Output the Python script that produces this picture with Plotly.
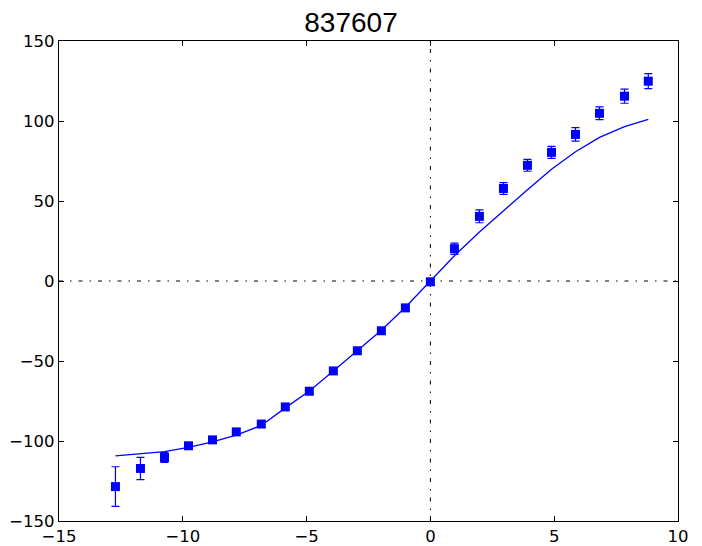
import plotly.graph_objects as go

# measured points (x, y, error) and model curve
x_vals = [-12.72, -11.71, -10.74, -9.77, -8.80, -7.84, -6.83, -5.86, -4.89, -3.92, -2.95,
          -1.98, -1.01, 0.0, 0.97, 1.98, 2.95, 3.92, 4.89, 5.86, 6.83, 7.84, 8.80]
y_data = [-128.5, -117.2, -110.3, -103.0, -99.3, -94.3, -89.4, -78.7, -68.9, -56.2, -43.6,
          -31.1, -16.8, -0.5, 20.2, 40.4, 57.8, 72.3, 80.4, 91.6, 104.8, 115.5, 124.9]
y_err = [12.4, 7.0, 3.0, 2.0, 2.0, 2.0, 2.0, 2.0, 2.0, 2.0, 2.0,
         2.0, 2.0, 2.0, 3.5, 4.0, 3.7, 3.7, 3.7, 4.2, 4.0, 4.4, 4.7]
y_model = [-109.3, -108.2, -106.7, -104.0, -100.5, -96.3, -90.3, -79.3, -68.8, -56.2, -43.6,
           -30.8, -16.4, 0.0, 15.8, 30.6, 44.0, 57.0, 69.8, 80.8, 89.8, 96.5, 101.0]
x_ticks = [-15, -10, -5, 0, 5, 10]
y_ticks = [-150, -100, -50, 0, 50, 100, 150]

blue = 'rgb(0, 0, 255)'
dashdot = '4px,7px,1.5px,7px'

fig = go.Figure()

# reference lines through the origin
fig.add_trace(go.Scatter(x=[-15, 10], y=[0, 0], mode='lines',
                         line=dict(color='black', width=1, dash=dashdot),
                         hoverinfo='none'))
fig.add_trace(go.Scatter(x=[0, 0], y=[-150, 150], mode='lines',
                         line=dict(color='black', width=1, dash=dashdot),
                         hoverinfo='none'))

# model curve
fig.add_trace(go.Scatter(x=x_vals, y=y_model, mode='lines',
                         line=dict(color=blue, width=1.3)))

# data with error bars
fig.add_trace(go.Scatter(x=x_vals, y=y_data, mode='markers',
                         marker=dict(symbol='square', size=9, color=blue),
                         error_y=dict(type='data', array=y_err, color=blue,
                                      thickness=1.2, width=4)))

axis_style = dict(showgrid=False, zeroline=False, showline=True, linecolor='black',
                  linewidth=1.3, mirror='allticks', ticks='inside', ticklen=5,
                  tickcolor='black', tickwidth=1, automargin=False,
                  tickfont=dict(family='DejaVu Sans', size=16.5, color='black'))

fig.update_xaxes(range=[-15, 10], tickvals=x_ticks, **axis_style)
fig.update_yaxes(range=[-150, 150], tickvals=y_ticks, **axis_style)

fig.update_layout(width=702, height=546,
                  margin=dict(l=59, r=24, t=41, b=25),
                  paper_bgcolor='white', plot_bgcolor='white',
                  showlegend=False,
                  title=dict(text='837607', x=0.5, xref='container', xanchor='center',
                             y=1 - 22 / 546, yref='container', yanchor='middle',
                             automargin=False,
                             font=dict(family='Liberation Sans', size=28, color='black')))

# drop the browser's default page margin so the figure sits at the corner
fig.write_html("out.html", config={'displayModeBar': False},
               post_script="document.body.style.margin='0';")
